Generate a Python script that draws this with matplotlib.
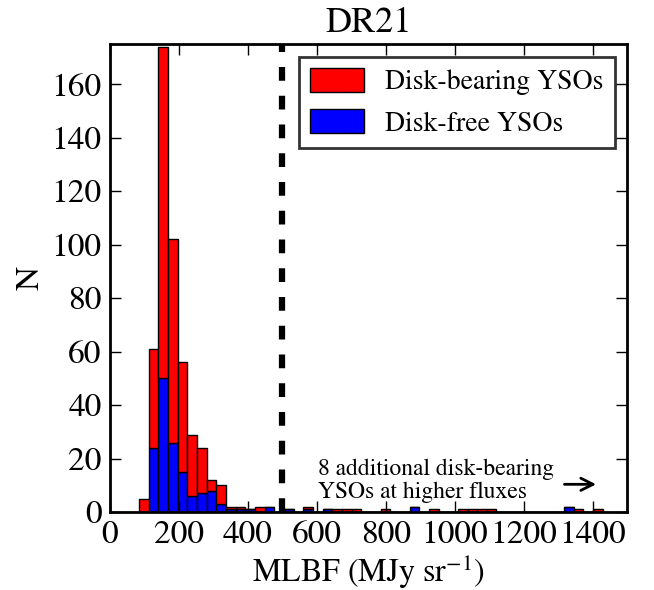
import matplotlib
matplotlib.use("Agg")
import matplotlib.pyplot as plt
import numpy as np

# histogram bins (MJy/sr): first edge and width
bin_start = 85
bin_width = 28
n_bins = 48

# counts per bin
disk_free = [0, 24, 50, 26, 15, 6, 7, 8, 3, 1, 1, 1, 0, 2, 0, 1, 0, 1, 0, 1,
             0, 0, 0, 0, 0, 0, 0, 0, 2, 0, 0, 0, 0, 0, 0, 0, 0, 0, 0, 0,
             0, 0, 0, 0, 2, 0, 0, 0]
all_ysos = [5, 61, 174, 102, 56, 29, 24, 12, 10, 2, 2, 1, 2, 2, 0, 1, 0, 2, 0, 1,
            1, 1, 1, 0, 0, 1, 0, 0, 2, 0, 1, 0, 0, 1, 1, 1, 1, 0, 0, 0,
            0, 0, 0, 0, 2, 1, 0, 1]

threshold = 500
xticks = [0, 200, 400, 600, 800, 1000, 1200, 1400]
yticks = [0, 20, 40, 60, 80, 100, 120, 140, 160]

plt.rcParams["font.family"] = ["STIXGeneral", "Liberation Serif", "DejaVu Serif"]
plt.rcParams["mathtext.fontset"] = "stix"

edges = bin_start + bin_width * np.arange(n_bins)
free = np.array(disk_free)
bearing = np.array(all_ysos) - free

fig = plt.figure(figsize=(6.54, 5.9), dpi=100)
ax = fig.add_axes([0.168, 0.132, 0.791, 0.793])

ax.bar(edges, free, width=bin_width, align="edge", color="blue",
       edgecolor="black", linewidth=1, label="Disk-free YSOs")
ax.bar(edges, bearing, width=bin_width, align="edge", bottom=free, color="red",
       edgecolor="black", linewidth=1, label="Disk-bearing YSOs")

ax.axvline(threshold, color="black", linewidth=4.5, linestyle=(0, (2.2, 2.4)))

ax.text(603, 5.1, "8 additional disk-bearing\nYSOs at higher fluxes",
        fontsize=17, ha="left", va="baseline", linespacing=1.1)
ax.annotate("", xy=(1418, 10.4), xytext=(1310, 10.4),
            arrowprops=dict(arrowstyle="->", color="black", lw=2,
                            mutation_scale=22))

ax.set_xlim(0, 1500)
ax.set_ylim(0, 175)
ax.set_xticks(xticks)
ax.set_yticks(yticks)
ax.tick_params(direction="in", top=True, right=True, length=8, width=1,
               labelsize=24, pad=6)
for s in ax.spines.values():
    s.set_linewidth(2)

ax.set_xlabel(r"MLBF (MJy sr$^{-1}$)", fontsize=23, labelpad=2)
ax.set_ylabel("N", fontsize=24)
ax.set_title("DR21", fontsize=26, pad=9)

handles, labels = ax.get_legend_handles_labels()
leg = ax.legend(handles[::-1], labels[::-1], loc="upper right", fontsize=20,
                frameon=True, fancybox=False, handlelength=1.95, handleheight=0.95,
                handletextpad=0.75, borderpad=0.4, labelspacing=0.5,
                borderaxespad=0.45)
leg.get_frame().set_edgecolor("black")
leg.get_frame().set_linewidth(2)

fig.savefig("out.png", dpi=100)
